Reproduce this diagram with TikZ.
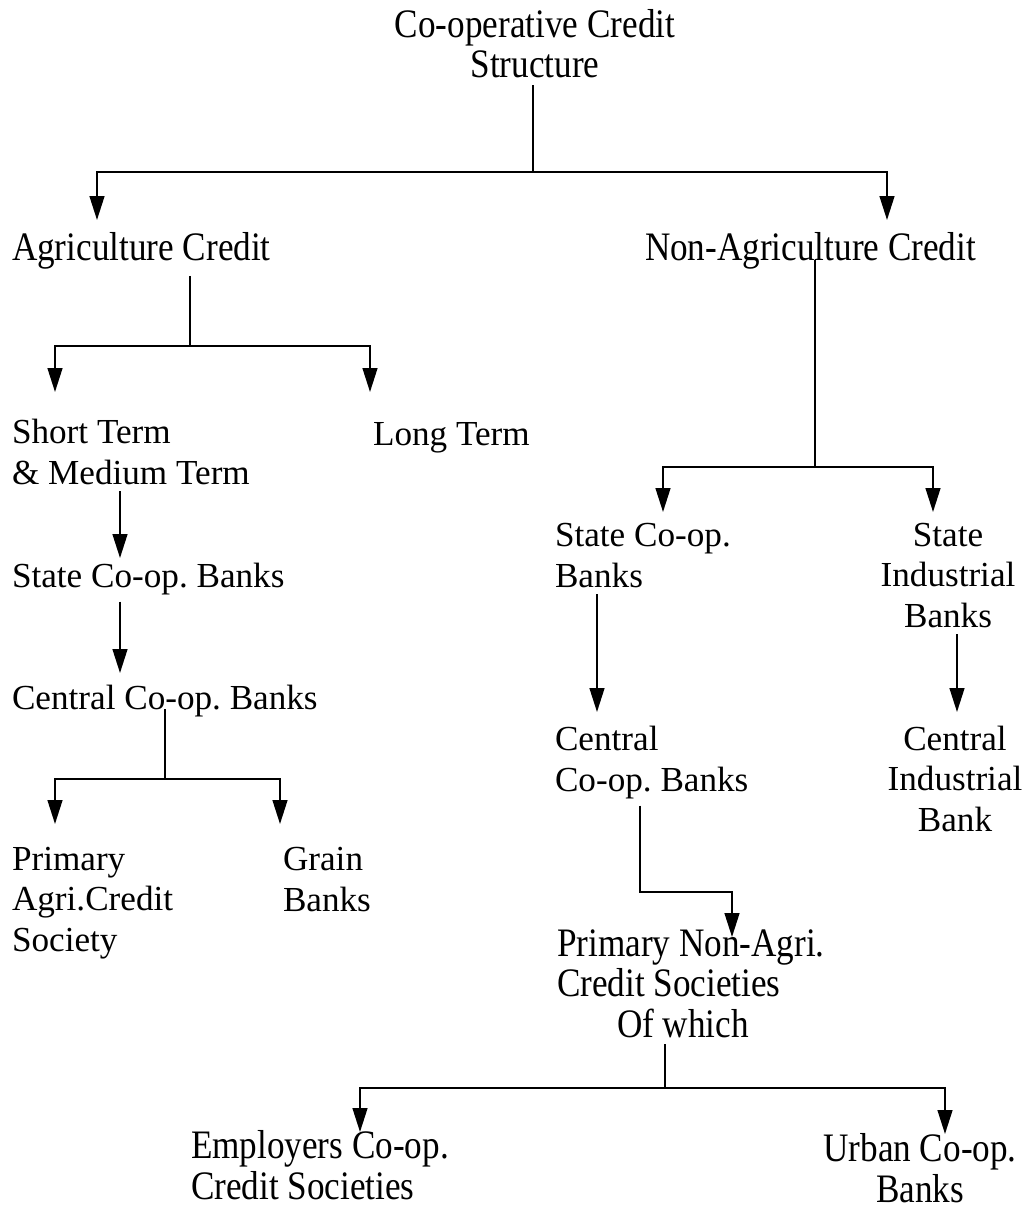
\documentclass[tikz,border=0pt]{standalone}
\usepackage{fontspec}
\setmainfont{Liberation Serif}
\usetikzlibrary{arrows.meta}
\newcommand{\tallline}[1]{\scalebox{1}[1.15]{#1}}
\frenchspacing

\begin{document}
\begin{tikzpicture}[
  x=0.025cm, y=-0.025cm,
  >={Triangle[length=17pt,width=10.5pt]},
  font=\fontsize{25}{28.5}\selectfont,
  lbl/.style={inner sep=0pt, outer sep=5pt, anchor=base west, align=left},
  clbl/.style={inner sep=0pt, outer sep=5pt, anchor=base, align=center},
  link/.style={line width=1.4pt},
  arr/.style={->, line width=1.4pt},
]
\useasboundingbox (0,0) rectangle (1024,1209);

% Top of the structure (nodes sit on the baseline of their last line)
\node[clbl] (top) at (535,78) {\tallline{Co-operative Credit}\\\tallline{Structure}};
\node[lbl] (agri)    at (5,260)   {\tallline{Agriculture Credit}};
\node[lbl] (nonagri) at (638,260) {\tallline{Non-Agriculture Credit}};

% Agriculture side
\node[lbl] (short) at (5,484)   {Short Term\\\& Medium Term};
\node[lbl] (long)  at (366,445) {Long Term};
\node[lbl] (scb)   at (5,587)   {State Co-op. Banks};
\node[lbl] (ccb)   at (5,709)   {Central Co-op. Banks};
\node[lbl] (pacs)  at (5,951)   {Primary\\Agri.Credit\\Society};
\node[lbl] (grain) at (276,911) {Grain\\Banks};

% Non-agriculture side
\node[lbl]  (nscb)  at (548,587) {State Co-op.\\Banks};
\node[clbl] (sib)   at (948,627) {State\\Industrial\\Banks};
\node[lbl]  (nccb)  at (548,791) {Central\\Co-op. Banks};
\node[clbl] (cib)   at (955,831) {Central\\Industrial\\Bank};
\node[lbl]  (pnacs) at (550,1037)
  {\tallline{Primary Non-Agri.}\\\tallline{Credit Societies}\\\hspace*{1.5cm}\tallline{Of which}};
\node[lbl]  (emp)   at (184,1199) {\tallline{Employers Co-op.}\\\tallline{Credit Societies}};
\node[clbl] (urban) at (920,1202) {\tallline{Urban Co-op.}\\\tallline{Banks}};

% Junctions and arrow tips
\coordinate (j0) at (533,172);
\coordinate (t-agri)    at (97,220);
\coordinate (t-nonagri) at (887,220);
\coordinate (j1) at (190,346);
\coordinate (t-short) at (55,392);
\coordinate (t-long)  at (370,392);
\coordinate (t-scb) at (120,558);
\coordinate (t-ccb) at (120,673);
\coordinate (j2) at (165,779);
\coordinate (t-pacs)  at (55,824);
\coordinate (t-grain) at (280,824);
\coordinate (j3) at (815,467);
\coordinate (t-nscb) at (663,512);
\coordinate (t-sib)  at (933,512);
\coordinate (t-nccb) at (597,712);
\coordinate (t-cib)  at (957,712);
\coordinate (b-nccb) at (640,892);
\coordinate (t-pnacs) at (732,937);
\coordinate (j5) at (665,1088);
\coordinate (t-emp)   at (360,1132);
\coordinate (t-urban) at (945,1134);

% Connectors
\draw[link] (top.south -| j0) -- (j0);
\foreach \t in {t-agri,t-nonagri} {\draw[arr] (j0) -| (\t);}

\draw[link] (agri.south -| j1) -- (j1);
\foreach \t in {t-short,t-long} {\draw[arr] (j1) -| (\t);}
\draw[arr] (short.south -| t-scb) -- (t-scb);
\draw[arr] (scb.south -| t-ccb) -- (t-ccb);
\draw[link] (ccb.base -| j2) -- (j2);
\foreach \t in {t-pacs,t-grain} {\draw[arr] (j2) -| (\t);}

\draw[link] (nonagri.base -| j3) -- (j3);
\foreach \t in {t-nscb,t-sib} {\draw[arr] (j3) -| (\t);}
\draw[arr] (nscb.south -| t-nccb) -- (t-nccb);
\draw[arr] (sib.south -| t-cib) -- (t-cib);
\draw[arr] (nccb.south -| b-nccb) -- (b-nccb) -| (t-pnacs);
\draw[link] (pnacs.south -| j5) -- (j5);
\foreach \t in {t-emp,t-urban} {\draw[arr] (j5) -| (\t);}

\end{tikzpicture}
\end{document}
